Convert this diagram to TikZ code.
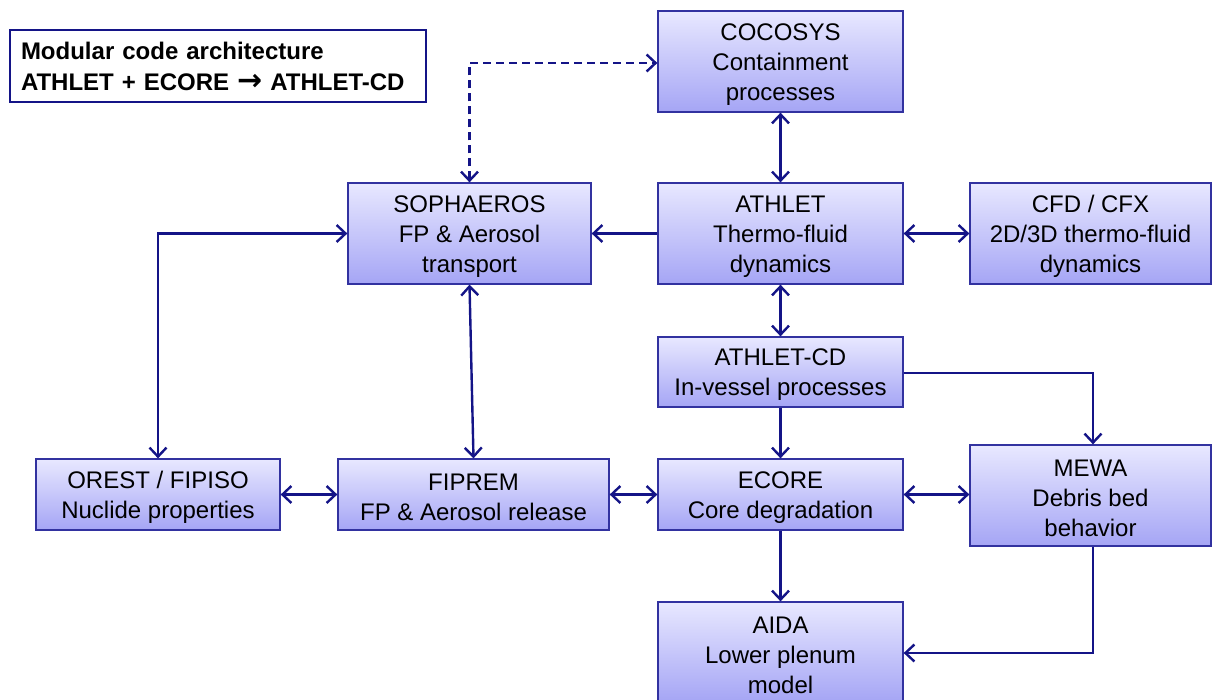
\documentclass[tikz,border=0pt]{standalone}
\usepackage{fontspec}
\setmainfont{Liberation Sans}
\newfontfamily\arrowfont{DejaVu Sans}
\usetikzlibrary{arrows.meta}
\definecolor{navy}{RGB}{20,20,135}
\definecolor{boxline}{RGB}{50,50,160}
\definecolor{boxtop}{RGB}{232,232,255}
\definecolor{boxmid}{RGB}{222,222,253}
\definecolor{boxbot}{RGB}{165,165,245}
\newcommand\mybox[5]{%
  \node[box, minimum width=#2, minimum height=#3] (#1) at (#4) {};
  \node[boxtext] (#1-t) at ([yshift=-3pt]#1.center) {#5};}
\begin{document}
\begin{tikzpicture}[x=1pt,y=-1pt,
  box/.style={rectangle, draw=boxline, line width=1.3pt, top color=boxtop, middle color=boxmid, bottom color=boxbot, inner sep=0pt},
  boxtext/.style={align=center, inner sep=0pt, font=\fontsize{24}{30}\selectfont},
  conn/.style={draw=navy, line width=2.4pt},
  >={Straight Barb[length=9pt,width=17pt]},
  dashline/.style={dash pattern=on 8pt off 5pt}
]
\useasboundingbox (0,0) rectangle (1212,699);
\node[rectangle, draw=navy, line width=1.3pt, fill=white, minimum width=416, minimum height=72,
  text width=394pt, inner xsep=0pt, align=left, font=\bfseries\fontsize{24}{31}\selectfont] (title) at (218,66)
  {Modular code architecture\\ATHLET + ECORE {\arrowfont\bfseries\fontsize{30}{31}\selectfont →} ATHLET-CD};
\mybox{cocosys}{245}{101}{780.5,61.5}{COCOSYS\\Containment\\processes}
\mybox{sophaeros}{243}{101}{469.5,233.5}{SOPHAEROS\\FP \& Aerosol\\transport}
\mybox{athlet}{245}{101}{780.5,233.5}{ATHLET\\Thermo-fluid\\dynamics}
\mybox{cfd}{241}{101}{1090.5,233.5}{CFD / CFX\\2D/3D thermo-fluid\\dynamics}
\mybox{athletcd}{245}{70}{780.5,372}{ATHLET-CD\\In-vessel processes}
\mybox{orest}{244}{71}{158,494.5}{OREST / FIPISO\\Nuclide properties}
\mybox{fiprem}{271}{71}{473.5,494.5}{FIPREM\\FP \& Aerosol release}
\mybox{ecore}{245}{71}{780.5,494.5}{ECORE\\Core degradation}
\mybox{mewa}{241}{101}{1090.5,495.5}{MEWA\\Debris bed\\behavior}
\mybox{aida}{245}{100}{780.5,652}{AIDA\\Lower plenum\\model}

\draw[conn, dashline, <->] (sophaeros.north) |- ([yshift=-1.5pt]cocosys.west);
\draw[conn, <->] (cocosys) -- (athlet);
\draw[conn, ->] (athlet.west) -- (sophaeros.east);
\draw[conn, <->] (athlet) -- (cfd);
\draw[conn, <->] (athlet) -- (athletcd);
\draw[conn, <->] (sophaeros.west) -| (orest.north);
\draw[conn, <->] (sophaeros.south) -- (fiprem.north);
\draw[conn, <->] (orest) -- (fiprem);
\draw[conn, <->] (fiprem) -- (ecore);
\draw[conn, ->] (athletcd) -- (ecore);
\draw[conn, ->] ([yshift=-1pt]athletcd.east) -| ([xshift=2.5pt]mewa.north);
\draw[conn, <->] (ecore.east) -- (ecore.east -| mewa.west);
\draw[conn, ->] (ecore) -- (aida);
\draw[conn, ->] ([xshift=2.5pt]mewa.south) |- ([yshift=-1pt]aida.east);
\end{tikzpicture}
\end{document}
